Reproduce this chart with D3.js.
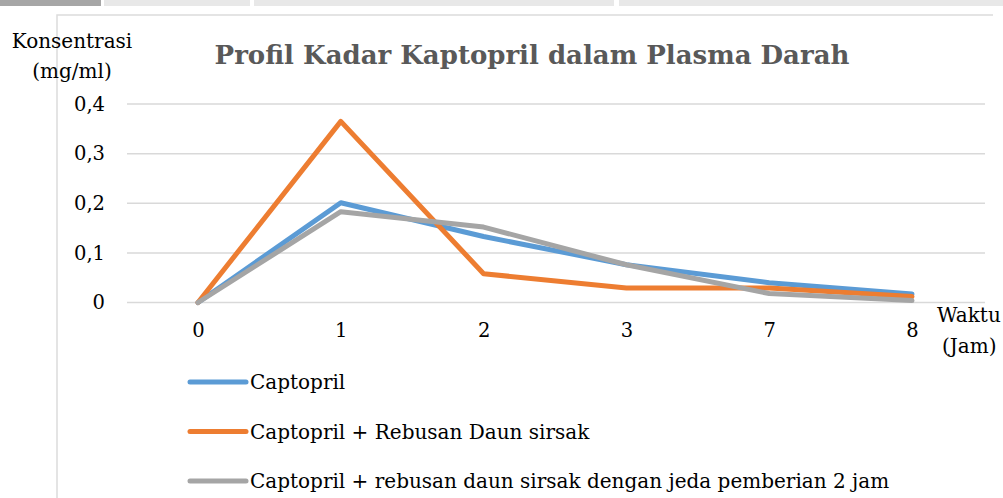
<!DOCTYPE html>
<html>
<head>
<meta charset="utf-8">
<script src="https://cdn.jsdelivr.net/npm/d3@7"></script>
<style>
  body { margin: 0; background: #fff; }
  svg { display: block; }
  svg text { font-family: "DejaVu Serif", serif; }
</style>
</head>
<body>
<svg id="chart" width="1003" height="498"></svg>
<script>
// data
var categories = ['0', '1', '2', '3', '7', '8'];
var captopril = [0, 0.201, 0.133, 0.076, 0.040, 0.017];
var captoprilRebusan = [0, 0.365, 0.058, 0.029, 0.029, 0.012];
var captoprilJeda = [0, 0.183, 0.152, 0.076, 0.018, 0.004];
var yTicks = [0, 0.1, 0.2, 0.3, 0.4];
var seriesNames = [
    'Captopril',
    'Captopril + Rebusan Daun sirsak',
    'Captopril + rebusan daun sirsak dengan jeda pemberian 2 jam'
];
var seriesColors = ['#5b9bd5', '#ed7d31', '#a5a5a5'];

var svg = d3.select('#chart');
var fmt = function(v) { return v === 0 ? '0' : d3.format('.1f')(v).replace('.', ','); };

// page chrome: tab strip on top, panel border
var tabs = [[0, 101, '#a6a6a6'], [104, 250, '#e8e8e8'], [254, 614, '#e8e8e8'], [619, 1003, '#e8e8e8']];
svg.selectAll('.tab').data(tabs).enter().append('rect')
    .attr('class', 'tab')
    .attr('x', function(d) { return d[0]; })
    .attr('y', 0)
    .attr('width', function(d) { return d[1] - d[0]; })
    .attr('height', 6)
    .attr('fill', function(d) { return d[2]; });
svg.append('path')
    .attr('d', 'M57,498V15H993')
    .attr('fill', 'none')
    .attr('stroke', '#dcdcdc')
    .attr('stroke-width', 1.5);

var x = d3.scalePoint().domain(categories).range([198, 912]);
var y = d3.scaleLinear().domain([0, 0.4]).range([302.5, 104]);

// gridlines
svg.append('g').selectAll('line').data(yTicks).enter().append('line')
    .attr('x1', 127).attr('x2', 985)
    .attr('y1', function(d) { return y(d); })
    .attr('y2', function(d) { return y(d); })
    .attr('stroke', '#d9d9d9')
    .attr('stroke-width', 1.5);

// y axis labels
var yAxis = d3.axisLeft(y).tickValues(yTicks).tickFormat(fmt).tickSize(0).tickPadding(0);
var gy = svg.append('g').attr('transform', 'translate(105,0)').call(yAxis);
gy.attr('font-family', null);
gy.select('.domain').remove();
gy.selectAll('text').attr('font-size', 19.5).attr('fill', '#000');

// x axis labels
var xAxis = d3.axisBottom(x).tickSize(0).tickPadding(0);
var gx = svg.append('g').attr('transform', 'translate(0,323)').call(xAxis);
gx.attr('font-family', null);
gx.select('.domain').remove();
gx.selectAll('text').attr('font-size', 19.5).attr('fill', '#000');

// lines
var line = d3.line()
    .x(function(d, i) { return x(categories[i]); })
    .y(function(d) { return y(d); });
var allSeries = [captopril, captoprilRebusan, captoprilJeda];
svg.append('g').selectAll('path').data(allSeries).enter().append('path')
    .attr('d', line)
    .attr('fill', 'none')
    .attr('stroke', function(d, i) { return seriesColors[i]; })
    .attr('stroke-width', 5)
    .attr('stroke-linejoin', 'round')
    .attr('stroke-linecap', 'round');

// title
svg.append('text')
    .attr('x', 532).attr('y', 64)
    .attr('text-anchor', 'middle')
    .attr('font-size', 26)
    .attr('font-weight', 'bold')
    .attr('fill', '#595959')
    .text('Profil Kadar Kaptopril dalam Plasma Darah');

// axis titles
svg.append('text').attr('x', 72).attr('y', 48).attr('text-anchor', 'middle')
    .attr('font-size', 20).text('Konsentrasi');
svg.append('text').attr('x', 72).attr('y', 78).attr('text-anchor', 'middle')
    .attr('font-size', 20).text('(mg/ml)');
svg.append('text').attr('x', 937).attr('y', 322)
    .attr('font-size', 20).text('Waktu');
svg.append('text').attr('x', 942).attr('y', 353)
    .attr('font-size', 20).text('(Jam)');

// legend
var legend = svg.append('g').selectAll('g').data(seriesNames).enter().append('g')
    .attr('transform', function(d, i) { return 'translate(0,' + (382 + i * 49.5) + ')'; });
legend.append('line')
    .attr('x1', 190).attr('x2', 246)
    .attr('stroke', function(d, i) { return seriesColors[i]; })
    .attr('stroke-width', 5)
    .attr('stroke-linecap', 'round');
legend.append('text')
    .attr('x', 250).attr('y', 7)
    .attr('font-size', 20)
    .text(function(d) { return d; });
</script>
</body>
</html>
